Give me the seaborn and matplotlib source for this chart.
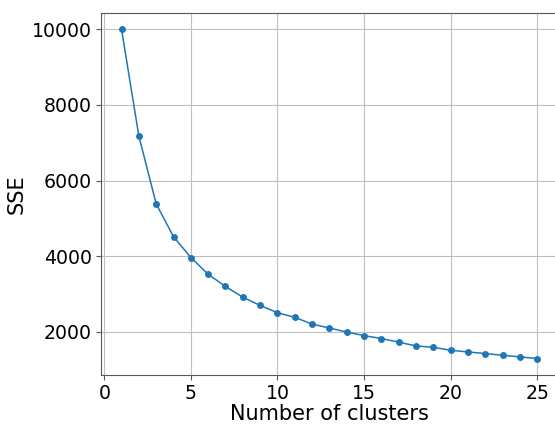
import pandas as pd
import matplotlib
matplotlib.use("Agg")
import matplotlib.pyplot as plt
import seaborn as sns

# elbow curve values
n_clusters = list(range(1, 26))
sse = [10000, 7170, 5380, 4510, 3960, 3517, 3193, 2910, 2691, 2499,
       2375, 2198, 2092, 1987, 1892, 1813, 1720, 1617, 1583, 1504,
       1459, 1417, 1372, 1328, 1285]

df = pd.DataFrame({"k": n_clusters, "sse": sse})

# plain style, no context scaling so sizes stay at matplotlib defaults
sns.set_style("whitegrid", rc={
    "axes.edgecolor": "0.35",
    "axes.linewidth": 1.0,
    "grid.color": "0.75",
    "grid.linewidth": 0.8,
    "xtick.bottom": True,
    "ytick.left": True,
})
plt.rcParams["font.family"] = ["DejaVu Sans"]

fig = plt.figure(figsize=(5.55, 4.24), dpi=100)
ax = fig.add_axes([0.1816, 0.1156, 0.8239, 0.8537])

sns.lineplot(data=df, x="k", y="sse", marker="o", color="#1f77b4",
             markersize=5, markeredgewidth=0, linewidth=1.1, ax=ax)

ax.margins(x=0.05, y=0.05)
ax.set_xticks([0, 5, 10, 15, 20, 25])
ax.set_yticks([2000, 4000, 6000, 8000, 10000])
ax.tick_params(labelsize=13.6, length=3.5, width=0.8, pad=3.0,
               color="0.35", labelcolor="black")
ax.set_xlabel("Number of clusters", fontsize=15, color="black", labelpad=0.5)
ax.set_ylabel("SSE", fontsize=15, color="black")

fig.savefig("out.png", dpi=100)
